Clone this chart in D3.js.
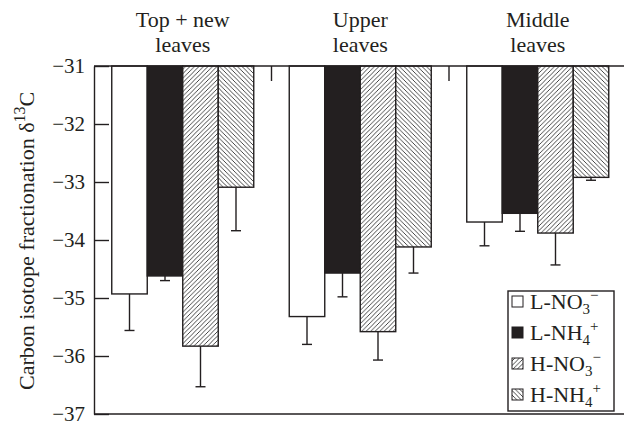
<!DOCTYPE html>
<html>
<head>
<meta charset="utf-8">
<script src="https://cdn.jsdelivr.net/npm/d3@7"></script>
<style>
  html, body { margin: 0; padding: 0; background: #fff; }
  svg { display: block; font-family: "Liberation Serif", "Times New Roman", serif; }
</style>
</head>
<body>
<svg id="chart" width="624" height="426"></svg>
<script>
// ---- data ----
const groups = ["Top + new leaves", "Upper leaves", "Middle leaves"];
const groupLines = [["Top + new", "leaves"], ["Upper", "leaves"], ["Middle", "leaves"]];
const seriesKeys = ["LNO3", "LNH4", "HNO3", "HNH4"];
const LNO3 = [-34.93, -35.32, -33.69];
const LNH4 = [-34.62, -34.57, -33.54];
const HNO3 = [-35.83, -35.58, -33.88];
const HNH4 = [-33.09, -34.12, -32.92];
const LNO3_err = [0.63, 0.48, 0.41];
const LNH4_err = [0.08, 0.41, 0.31];
const HNO3_err = [0.70, 0.49, 0.55];
const HNH4_err = [0.75, 0.45, 0.05];
const yTicks = [-31, -32, -33, -34, -35, -36, -37];
const yTitle = "Carbon isotope fractionation δ";

const values = { LNO3, LNH4, HNO3, HNH4 };
const errors = { LNO3: LNO3_err, LNH4: LNH4_err, HNO3: HNO3_err, HNH4: HNH4_err };
const legendItems = [
  { key: "LNO3", pre: "L-NO", sub: "3", sup: "\u2212" },
  { key: "LNH4", pre: "L-NH", sub: "4", sup: "+" },
  { key: "HNO3", pre: "H-NO", sub: "3", sup: "\u2212" },
  { key: "HNH4", pre: "H-NH", sub: "4", sup: "+" }
];

const ink = "#231f20";
const svg = d3.select("#chart");

// patterns
const defs = svg.append("defs");
const p1 = defs.append("pattern").attr("id", "hatchF").attr("patternUnits", "userSpaceOnUse")
  .attr("width", 4.5).attr("height", 4.5);
p1.append("rect").attr("width", 4.5).attr("height", 4.5).attr("fill", "#fff");
p1.append("path").attr("d", "M0,4.5 L4.5,0 M-1,1 L1,-1 M3.5,5.5 L5.5,3.5")
  .attr("stroke", "#333").attr("stroke-width", 0.9);
const p2 = defs.append("pattern").attr("id", "hatchB").attr("patternUnits", "userSpaceOnUse")
  .attr("width", 4.5).attr("height", 4.5);
p2.append("rect").attr("width", 4.5).attr("height", 4.5).attr("fill", "#fff");
p2.append("path").attr("d", "M0,0 L4.5,4.5 M-1,3.5 L1,5.5 M3.5,-1 L5.5,1")
  .attr("stroke", "#333").attr("stroke-width", 0.9);

const fills = { LNO3: "#fff", LNH4: ink, HNO3: "url(#hatchF)", HNH4: "url(#hatchB)" };

// scales
const x0 = d3.scaleBand().domain(groups).range([94, 626.5]).paddingInner(0.2).paddingOuter(0.1);
const x1 = d3.scaleBand().domain(seriesKeys).range([0, x0.bandwidth()]);
const y = d3.scaleLinear().domain([-37, -31]).range([414, 66]);

// bars
const gBars = svg.append("g");
groups.forEach((g, gi) => {
  seriesKeys.forEach(k => {
    const v = values[k][gi];
    const bx = x0(g) + x1(k);
    gBars.append("rect")
      .attr("x", bx).attr("y", y(-31))
      .attr("width", x1.bandwidth()).attr("height", y(v) - y(-31))
      .attr("fill", fills[k]).attr("stroke", ink).attr("stroke-width", 1.4);
    const cx = bx + x1.bandwidth() / 2;
    const e = errors[k][gi];
    gBars.append("line").attr("x1", cx).attr("x2", cx)
      .attr("y1", y(v)).attr("y2", y(v - e)).attr("stroke", ink).attr("stroke-width", 1.4);
    gBars.append("line").attr("x1", cx - 5).attr("x2", cx + 5)
      .attr("y1", y(v - e)).attr("y2", y(v - e)).attr("stroke", ink).attr("stroke-width", 1.4);
  });
});

// y axis
const yAxis = d3.axisLeft(y).tickValues(yTicks).tickSize(-15).tickSizeOuter(0).tickPadding(9)
  .tickFormat(d3.format("d"));
const gy = svg.append("g").attr("transform", "translate(94,0)").call(yAxis);
gy.attr("font-family", null).attr("font-size", null);
gy.selectAll("path, line").attr("stroke", ink).attr("stroke-width", 1.4);
gy.selectAll("text").attr("font-family", "Liberation Serif").attr("font-size", 21).attr("fill", ink)
  .attr("dy", "0.3em");

// top and bottom lines
svg.append("line").attr("x1", 94).attr("x2", 624).attr("y1", y(-31)).attr("y2", y(-31))
  .attr("stroke", ink).attr("stroke-width", 1.6);
svg.append("line").attr("x1", 94).attr("x2", 624).attr("y1", y(-37)).attr("y2", y(-37))
  .attr("stroke", ink).attr("stroke-width", 1.6);

// group separator ticks hanging from top line
groups.slice(1).forEach(g => {
  const tx = x0(g) - x0.step() * x0.paddingInner() / 2;
  svg.append("line").attr("x1", tx).attr("x2", tx).attr("y1", y(-31)).attr("y2", y(-31) + 15)
    .attr("stroke", ink).attr("stroke-width", 1.4);
});

// group labels
groups.forEach((g, gi) => {
  const cx = x0(g) + x0.bandwidth() / 2;
  groupLines[gi].forEach((ln, li) => {
    svg.append("text").attr("x", cx).attr("y", 27 + li * 25)
      .attr("text-anchor", "middle").attr("font-size", 22).attr("fill", ink).text(ln);
  });
});

// y title
const yt = svg.append("text").attr("transform", "translate(34,390) rotate(-90)")
  .attr("font-size", 22).attr("fill", ink);
yt.append("tspan").text(yTitle);
yt.append("tspan").attr("font-size", 16).attr("dy", -9).text("13");
yt.append("tspan").attr("dy", 9).text("C");

// legend
const lg = svg.append("g");
lg.append("rect").attr("x", 508).attr("y", 291).attr("width", 106).attr("height", 120)
  .attr("fill", "#fff").attr("stroke", ink).attr("stroke-width", 1.4);
legendItems.forEach((it, i) => {
  const by = 309 + i * 31;
  lg.append("rect").attr("x", 512).attr("y", by - 13).attr("width", 11).attr("height", 11)
    .attr("fill", fills[it.key]).attr("stroke", ink).attr("stroke-width", 1);
  const t = lg.append("text").attr("x", 530).attr("y", by).attr("font-size", 22).attr("fill", ink);
  t.append("tspan").text(it.pre);
  t.append("tspan").attr("font-size", 15).attr("dy", 5).text(it.sub);
  t.append("tspan").attr("font-size", 15).attr("dy", -14).text(it.sup);
});
</script>
</body>
</html>
